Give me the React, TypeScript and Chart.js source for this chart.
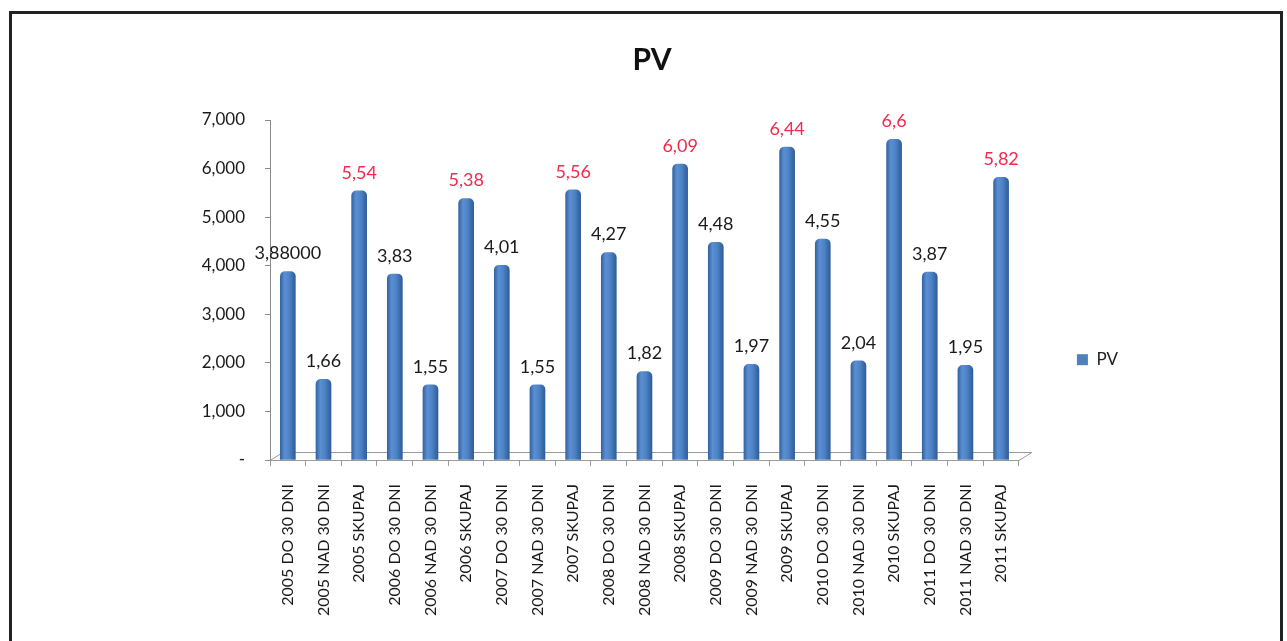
import React, { useEffect, useRef } from 'react';
import { Chart, registerables } from 'chart.js';

Chart.register(...registerables);

const categories = [
  '2005 DO 30 DNI', '2005 NAD 30 DNI', '2005 SKUPAJ',
  '2006 DO 30 DNI', '2006 NAD 30 DNI', '2006 SKUPAJ',
  '2007 DO 30 DNI', '2007 NAD 30 DNI', '2007 SKUPAJ',
  '2008 DO 30 DNI', '2008 NAD 30 DNI', '2008 SKUPAJ',
  '2009 DO 30 DNI', '2009 NAD 30 DNI', '2009 SKUPAJ',
  '2010 DO 30 DNI', '2010 NAD 30 DNI', '2010 SKUPAJ',
  '2011 DO 30 DNI', '2011 NAD 30 DNI', '2011 SKUPAJ',
];

const values = [
  3880, 1660, 5540,
  3830, 1550, 5380,
  4010, 1550, 5560,
  4270, 1820, 6090,
  4480, 1970, 6440,
  4550, 2040, 6600,
  3870, 1950, 5820,
];

const valueLabels = [
  '3,88000', '1,66', '5,54',
  '3,83', '1,55', '5,38',
  '4,01', '1,55', '5,56',
  '4,27', '1,82', '6,09',
  '4,48', '1,97', '6,44',
  '4,55', '2,04', '6,6',
  '3,87', '1,95', '5,82',
];

const yMin = 0;
const yMax = 7000;
const yStep = 1000;
const seriesName = 'PV';
const titleText = 'PV';

const FONT = 'Lato, "Open Sans", sans-serif';

const floorPlugin = {
  id: 'floor3d',
  beforeDatasetsDraw(chart: any) {
    const { ctx, chartArea } = chart;
    const { left, right, bottom } = chartArea;
    ctx.save();
    ctx.strokeStyle = '#9a9a9a';
    ctx.lineWidth = 1;
    ctx.beginPath();
    ctx.moveTo(left, bottom + 0.5);
    ctx.lineTo(left + 13, bottom - 7.5);
    ctx.lineTo(right + 13, bottom - 7.5);
    ctx.lineTo(right, bottom + 0.5);
    ctx.stroke();
    ctx.restore();
  },
};

const valueLabelPlugin = {
  id: 'valueLabels',
  afterDatasetsDraw(chart: any) {
    const { ctx } = chart;
    const meta = chart.getDatasetMeta(0);
    ctx.save();
    ctx.font = `18px ${FONT}`;
    ctx.textAlign = 'center';
    ctx.textBaseline = 'middle';
    meta.data.forEach((el: any, i: number) => {
      const isTotal = categories[i].indexOf('SKUPAJ') >= 0;
      ctx.fillStyle = isTotal ? '#f2294c' : '#1a1a1a';
      ctx.fillText(valueLabels[i], el.x, el.y - 18);
    });
    ctx.restore();
  },
};

export default function App() {
  const canvasRef = useRef<HTMLCanvasElement | null>(null);

  useEffect(() => {
    document.body.style.overflow = 'hidden';
    const canvas = canvasRef.current;
    if (!canvas) return;

    const barColor = (c: any) => {
      const chart = c.chart;
      const xs = chart.scales && chart.scales.x;
      if (!xs || c.dataIndex === undefined) return '#4f81bd';
      const cx = xs.getPixelForValue(c.dataIndex);
      if (!isFinite(cx)) return '#4f81bd';
      const g = chart.ctx.createLinearGradient(cx - 8, 0, cx + 8, 0);
      g.addColorStop(0, '#2f5f9c');
      g.addColorStop(0.3, '#5b8fd3');
      g.addColorStop(0.6, '#4d82c5');
      g.addColorStop(1, '#2c5a95');
      return g;
    };

    const chart = new Chart(canvas, {
      type: 'bar',
      data: {
        labels: categories,
        datasets: [
          {
            label: seriesName,
            data: values,
            backgroundColor: barColor,
            borderWidth: 0,
            barThickness: 15,
            borderRadius: { topLeft: 5, topRight: 5, bottomLeft: 0, bottomRight: 0 },
            borderSkipped: 'bottom',
            xAxisID: 'x',
            yAxisID: 'y',
          },
        ],
      },
      plugins: [floorPlugin, valueLabelPlugin],
      options: {
        responsive: false,
        animation: false,
        layout: { padding: { left: 12, right: 0, top: 0, bottom: 0 } },
        plugins: {
          title: {
            display: true,
            text: titleText,
            color: '#111',
            font: { family: FONT, size: 30, weight: 'bold' },
            padding: { top: 28, bottom: 42 },
          },
          legend: {
            display: true,
            position: 'right',
            title: {
              display: true,
              text: ' ',
              font: { size: 12 },
              padding: { top: 50, bottom: 0 },
            },
            labels: {
              padding: 58,
              boxWidth: 11,
              boxHeight: 11,
              color: '#222',
              font: { family: FONT, size: 17 },
              generateLabels: (ch: any) => {
                const items = Chart.defaults.plugins.legend.labels.generateLabels(ch);
                items.forEach((it: any) => {
                  it.fillStyle = '#4f81bd';
                  it.strokeStyle = '#4f81bd';
                  it.lineWidth = 0;
                });
                return items;
              },
            },
          },
          tooltip: { enabled: false },
        },
        scales: {
          x: {
            offset: true,
            grid: {
              display: true,
              offset: true,
              drawOnChartArea: false,
              drawTicks: true,
              tickLength: 6,
              color: '#9a9a9a',
            },
            border: { display: true, color: '#9a9a9a' },
            ticks: {
              autoSkip: false,
              minRotation: 90,
              maxRotation: 90,
              padding: 18,
              color: '#1a1a1a',
              font: { family: FONT, size: 16 },
            },
            afterFit: (scale: any) => {
              scale.height = 181;
            },
          },
          y: {
            min: yMin,
            max: yMax,
            grid: {
              display: true,
              drawOnChartArea: false,
              drawTicks: true,
              tickLength: 5,
              color: '#8a8a8a',
            },
            border: { display: true, color: '#8a8a8a' },
            ticks: {
              stepSize: yStep,
              padding: 20,
              color: '#1a1a1a',
              font: { family: FONT, size: 17 },
              callback: (v: any) => (Number(v) === 0 ? '-' : Number(v).toLocaleString('en-US')),
            },
            afterFit: (scale: any) => {
              scale.width = 246;
            },
          },
          spacer: {
            type: 'linear',
            position: 'right',
            weight: 5000,
            display: true,
            grid: { display: false },
            border: { display: false },
            ticks: { display: false },
            afterFit: (scale: any) => {
              scale.width = 152;
            },
          },
        },
      },
    });

    return () => {
      chart.destroy();
    };
  }, []);

  return (
    <div
      style={{
        position: 'absolute',
        left: 9,
        top: 11,
        width: 1268,
        height: 630,
        borderTop: '3px solid #222',
        borderLeft: '3px solid #222',
        borderRight: '3px solid #222',
        borderBottom: 'none',
        background: '#fff',
      }}
    >
      <canvas ref={canvasRef} width={1268} height={627} style={{ display: 'block' }} />
    </div>
  );
}
